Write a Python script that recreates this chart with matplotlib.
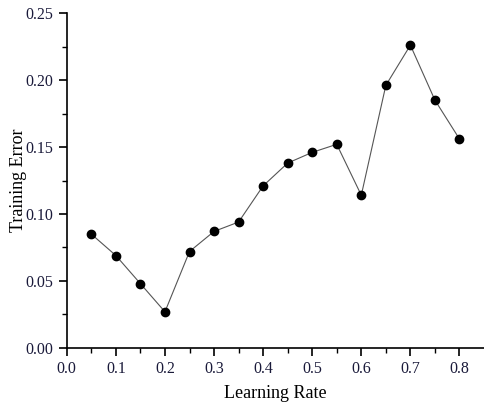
import numpy as np
from matplotlib import pyplot as plt

learning_rate = [0.05, 0.10, 0.15, 0.20, 0.25, 0.30, 0.35, 0.40,
                 0.45, 0.50, 0.55, 0.60, 0.65, 0.70, 0.75, 0.80]
training_error = [0.085, 0.069, 0.048, 0.027, 0.072, 0.087, 0.094, 0.121,
                  0.138, 0.146, 0.152, 0.114, 0.196, 0.226, 0.185, 0.156]

plt.rcParams['font.family'] = ['Liberation Serif', 'DejaVu Serif']

fig = plt.figure(figsize=(4.84, 4.07), dpi=100)
ax = fig.add_axes([0.138, 0.145, 0.862, 0.823])

ax.plot(learning_rate, training_error, color='#555555', lw=0.8,
        marker='o', markersize=6, markerfacecolor='black', markeredgecolor='black')

ax.set_xlim(0.0, 0.85)
ax.set_ylim(0.0, 0.25)
ax.set_xticks(np.arange(0, 0.81, 0.1))
ax.set_xticks(np.arange(0.05, 0.85, 0.1), minor=True)
ax.set_yticks(np.arange(0, 0.251, 0.05))
ax.set_yticks(np.arange(0.025, 0.25, 0.05), minor=True)
ax.xaxis.set_major_formatter(plt.FormatStrFormatter('%.1f'))
ax.yaxis.set_major_formatter(plt.FormatStrFormatter('%.2f'))

for s in ['top', 'right']:
    ax.spines[s].set_visible(False)
for s in ['left', 'bottom']:
    ax.spines[s].set_linewidth(1.2)
ax.tick_params(which='major', direction='out', length=6, width=1.2, labelsize=11.5,
               labelcolor='#1a1a3a')
ax.tick_params(which='minor', direction='out', length=3.5, width=1.0)

ax.set_xlabel('Learning Rate', fontsize=13)
ax.set_ylabel('Training Error', fontsize=13)
ax.xaxis.set_label_coords(0.5, -0.11)
ax.yaxis.set_label_coords(-0.095, 0.5)

fig.savefig('out.png', dpi=100)
